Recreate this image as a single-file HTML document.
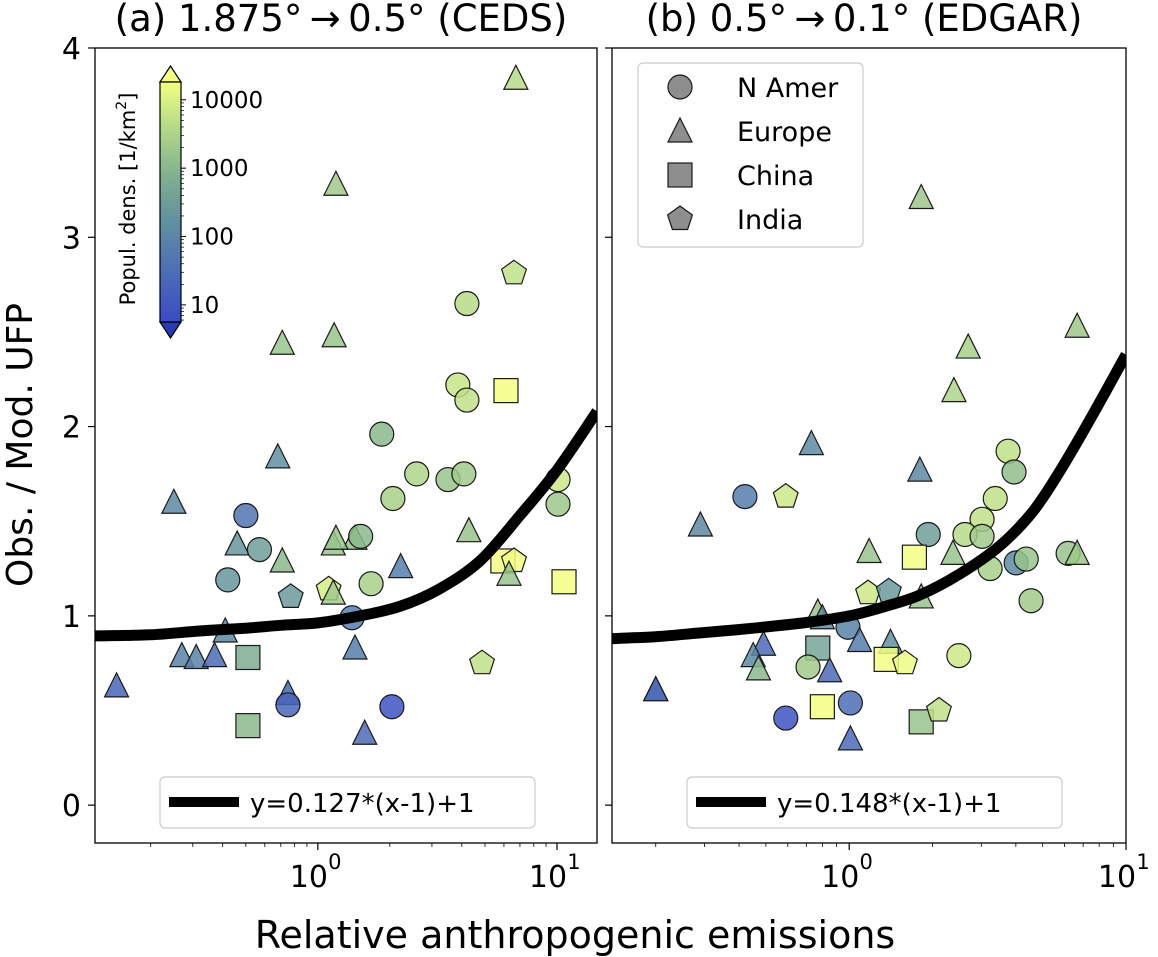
<!DOCTYPE html>
<html><head><meta charset="utf-8"><style>
html,body{margin:0;padding:0;background:#fff}
svg{display:block;font-family:"DejaVu Sans","Liberation Sans",sans-serif}
</style></head><body>
<svg id="chart" width="1158" height="957" viewBox="0 0 1158 957" xmlns="http://www.w3.org/2000/svg">
<defs>
<linearGradient id="cbgrad" x1="0" y1="1" x2="0" y2="0">
<stop offset="0" stop-color="#3a4bc6"/>
<stop offset="0.22" stop-color="#4f6fb4"/>
<stop offset="0.42" stop-color="#6190a0"/>
<stop offset="0.62" stop-color="#84b28e"/>
<stop offset="0.82" stop-color="#b6dc88"/>
<stop offset="1" stop-color="#f4ff84"/>
</linearGradient>
</defs>
<g id="root"></g>
</svg>
<script>
// ---------- data ----------
const countryNames = ["N Amer","Europe","China","India"];
// Panel (a)
const aX = [0.68,0.25,0.50,0.46,0.57,0.71,0.42,0.77,1.11,1.16,1.16,1.43,1.51,1.85,2.06,1.67,1.39,2.22,0.41,0.27,0.31,0.37,0.51,0.144,0.75,0.75,0.51,1.57,2.04,1.43,6.61,4.20,1.17,3.85,4.20,6.12,2.59,3.50,4.08,10.1,10.1,4.28,1.19,5.94,6.61,6.30,10.7,4.86,6.73,0.71,1.19];
const aY = [1.84,1.60,1.53,1.38,1.35,1.29,1.19,1.10,1.14,1.12,1.38,1.41,1.42,1.96,1.62,1.17,0.99,1.26,0.92,0.79,0.78,0.79,0.78,0.63,0.59,0.53,0.42,0.38,0.52,0.83,2.81,2.65,2.48,2.22,2.14,2.19,1.75,1.72,1.75,1.72,1.59,1.45,1.41,1.29,1.29,1.22,1.18,0.75,3.84,2.44,3.28];
const aShape = [1,1,0,1,0,1,0,3,3,1,1,1,0,0,0,0,0,1,1,1,1,1,2,1,1,0,2,1,0,1,3,0,1,0,0,2,0,0,0,0,0,1,1,2,3,1,2,3,1,1,1];
const aDens = [150,120,40,200,300,1000,200,250,8000,2000,1500,1500,1000,1000,2500,2500,60,60,100,80,80,25,600,20,20,20,1000,25,8,60,5000,4000,1500,6000,5000,20000,3000,1500,2000,7000,1800,1500,1500,20000,20000,1500,20000,5000,4000,1500,2000];
// Panel (b)
const bX = [0.20,0.29,0.42,0.59,0.73,1.80,1.93,1.72,1.18,2.37,3.75,3.94,3.37,3.02,2.62,3.02,3.23,4.01,4.36,6.18,6.66,4.54,1.17,1.39,1.82,0.77,0.80,0.99,0.49,0.45,0.47,0.77,1.09,1.41,1.36,1.59,0.71,0.85,2.49,0.20,0.59,0.80,1.01,1.01,1.82,2.11,1.82,2.39,2.69,6.66];
const bY = [0.61,1.48,1.63,1.63,1.91,1.77,1.43,1.31,1.34,1.33,1.87,1.76,1.62,1.51,1.43,1.42,1.25,1.28,1.30,1.33,1.33,1.08,1.12,1.13,1.10,1.02,0.99,0.94,0.85,0.79,0.72,0.83,0.87,0.86,0.77,0.75,0.73,0.71,0.79,0.61,0.46,0.52,0.54,0.35,0.44,0.50,3.21,2.19,2.42,2.53];
const bShape = [1,1,0,3,1,1,0,2,1,1,0,0,0,0,0,0,0,0,0,0,1,0,3,3,1,1,1,0,1,1,1,2,1,1,2,3,0,1,0,1,0,2,0,1,2,3,1,1,1,1];
const bDens = [25,120,60,7000,120,120,300,20000,1500,1500,5000,1200,5000,5000,4000,2000,2500,120,1500,1500,1800,2000,7000,250,1500,1500,120,80,25,120,1000,400,60,150,20000,15000,2000,25,7000,25,8,20000,30,25,1500,5000,1800,3000,2500,1800];
// Fit curves (sampled from figure)
const fitAx = [0.117,0.2,0.32,0.5,0.7,1,1.5,2.2,3.2,4.76,7,10,14.7];
const fitAy = [0.894,0.90,0.92,0.935,0.95,0.963,1.0,1.05,1.14,1.29,1.53,1.77,2.08];
const fitBx = [0.139,0.2,0.29,0.45,0.7,1,1.35,1.8,2.5,3.5,4.6,5.8,7.5,10];
const fitBy = [0.88,0.89,0.91,0.935,0.965,1.0,1.05,1.11,1.22,1.37,1.55,1.77,2.05,2.38];
const yTicks = [0,1,2,3,4];
const cbTicks = [10,100,1000,10000];
const fitLabels = ["y=0.127*(x-1)+1","y=0.148*(x-1)+1"];

// ---------- helpers ----------
const NS="http://www.w3.org/2000/svg";
const root=document.getElementById('root');
function mk(tag,attrs,parent){const e=document.createElementNS(NS,tag);for(const k in attrs)e.setAttribute(k,attrs[k]);(parent||root).appendChild(e);return e;}
const yTop=48, yBot=843, yMin=-0.2, yMax=4;
function yScale(v){return yBot-(v-yMin)/(yMax-yMin)*(yBot-yTop);}
const panels=[{x0:95,x1:597,lmin:Math.log10(0.117),lmax:Math.log10(14.7)},{x0:612,x1:1126,lmin:Math.log10(0.139),lmax:1}];
function xScale(p,v){const P=panels[p];return P.x0+(Math.log10(v)-P.lmin)/(P.lmax-P.lmin)*(P.x1-P.x0);}
const cbLo=0.75, cbHi=4.26, cbTopY=82, cbBotY=322;
const stops=[[0.75,[58,75,198]],[1.5,[79,111,180]],[2.2,[97,144,160]],[2.9,[132,178,142]],[3.6,[182,220,136]],[4.26,[244,255,132]]];
function color(d){let l=Math.log10(d);l=Math.max(cbLo,Math.min(cbHi,l));for(let i=0;i<stops.length-1;i++){const a=stops[i],b=stops[i+1];if(l<=b[0]){const t=(l-a[0])/(b[0]-a[0]);const c=a[1].map((v,j)=>Math.round(v+(b[1][j]-v)*t));return `rgb(${c[0]},${c[1]},${c[2]})`;}}return 'rgb(244,255,132)';}
function marker(g,shape,cx,cy,fill){
  const st={fill:fill,stroke:'#1a1a1a','stroke-width':1.2,'fill-opacity':0.85};
  let e;
  if(shape===0){e=mk('circle',Object.assign({cx:cx,cy:cy,r:12},st),g);}
  else if(shape===1){e=mk('polygon',Object.assign({points:`${cx},${cy-13} ${cx+12},${cy+11} ${cx-12},${cy+11}`},st),g);}
  else if(shape===2){e=mk('rect',Object.assign({x:cx-12,y:cy-12,width:24,height:24},st),g);}
  else{const pts=[];for(let k=0;k<5;k++){const a=-Math.PI/2+k*2*Math.PI/5;pts.push((cx+13*Math.cos(a)).toFixed(1)+','+(cy+13*Math.sin(a)).toFixed(1));}e=mk('polygon',Object.assign({points:pts.join(' ')},st),g);}
  return e;
}
function smoothPath(pts){
  let d='M'+pts[0][0].toFixed(1)+','+pts[0][1].toFixed(1);
  for(let i=0;i<pts.length-1;i++){
    const p0=pts[Math.max(0,i-1)],p1=pts[i],p2=pts[i+1],p3=pts[Math.min(pts.length-1,i+2)];
    const c1=[p1[0]+(p2[0]-p0[0])/6,p1[1]+(p2[1]-p0[1])/6];
    const c2=[p2[0]-(p3[0]-p1[0])/6,p2[1]-(p3[1]-p1[1])/6];
    d+=`C${c1[0].toFixed(1)},${c1[1].toFixed(1)} ${c2[0].toFixed(1)},${c2[1].toFixed(1)} ${p2[0].toFixed(1)},${p2[1].toFixed(1)}`;
  }
  return d;
}

const titles=["(a) 1.875°\u2009\u2192\u20090.5° (CEDS)","(b) 0.5°\u2009\u2192\u20090.1° (EDGAR)"];
const datasets=[[aX,aY,aShape,aDens,fitAx,fitAy],[bX,bY,bShape,bDens,fitBx,fitBy]];

for(let p=0;p<2;p++){
  const P=panels[p];
  const g=mk('g',{});
  
  
  const clipId='clip'+p;
  const cp=mk('clipPath',{id:clipId},g);mk('rect',{x:P.x0,y:yTop,width:P.x1-P.x0,height:yBot-yTop},cp);
  const t=mk('text',{x:(P.x0+P.x1)/2-5,y:31,'font-size':37,'text-anchor':'middle',fill:'#000'},g);t.textContent=titles[p];
  
  
  yTicks.forEach(v=>{const y=yScale(v);mk('line',{x1:P.x0-7,x2:P.x0,y1:y,y2:y,stroke:'#000','stroke-width':1.2},g);
    if(p===0){const tt=mk('text',{x:P.x0-14,y:y+11,'font-size':30,'text-anchor':'end'},g);tt.textContent=v;
      
      }});
  for(let dec=-1;dec<=1;dec++){for(let m=1;m<10;m++){const v=m*Math.pow(10,dec);const lv=Math.log10(v);if(lv<P.lmin-1e-9||lv>P.lmax+1e-9)continue;const x=xScale(p,v);
    mk('line',{x1:x,x2:x,y1:yBot,y2:yBot+(m===1?7:4),stroke:'#000','stroke-width':m===1?1.2:0.8},g);
    if(m===1&&dec>=0){const tt=mk('text',{x:x-9,y:yBot+44,'font-size':30,'text-anchor':'middle'},g);tt.textContent='10';
      
      
      const sup=mk('text',{x:x+17,y:yBot+26,'font-size':21,'text-anchor':'middle'},g);sup.textContent=String(dec);}}}
  const ds=datasets[p];
  const pg=mk('g',{'clip-path':`url(#${clipId})`},g);
  for(let i=0;i<ds[0].length;i++){const m=marker(pg,ds[2][i],xScale(p,ds[0][i]),yScale(ds[1][i]),color(ds[3][i]));
    
    }
  const pts=ds[4].map((v,i)=>[xScale(p,v),yScale(ds[5][i])]);
  const fc=mk('path',{d:smoothPath(pts),fill:'none',stroke:'#000','stroke-width':11,'clip-path':`url(#${clipId})`,'stroke-linejoin':'round'},g);
  
  
  mk('rect',{x:P.x0,y:yTop,width:P.x1-P.x0,height:yBot-yTop,fill:'none',stroke:'#000','stroke-width':1.3},g);
  const lx=p===0?160:687;
  const lg=mk('g',{},g);
  
  
  mk('rect',{x:lx,y:777,width:375,height:51,rx:5,fill:'#fff','fill-opacity':0.85,stroke:'#ccc','stroke-width':1.2},lg);
  mk('line',{x1:lx+9,x2:lx+79,y1:802,y2:802,stroke:'#000','stroke-width':10},lg);
  const lt=mk('text',{x:lx+90,y:812,'font-size':26},lg);lt.textContent=fitLabels[p];
}

{const lg=mk('g',{});
 
 
 mk('rect',{x:638,y:63,width:225,height:184,rx:5,fill:'#fff','fill-opacity':0.85,stroke:'#ccc','stroke-width':1.2},lg);
 const ys=[87,131,175,219];
 for(let i=0;i<4;i++){marker(lg,i,680,ys[i],'#7a7a7a');
   const t=mk('text',{x:737,y:ys[i]+10,'font-size':27},lg);t.textContent=countryNames[i];
   
   }}

{const cg=mk('g',{});
 
 
 const cx0=160,cx1=181;
 mk('polygon',{points:`${cx0},${cbTopY} ${(cx0+cx1)/2},66 ${cx1},${cbTopY}`,fill:'#f4ff84',stroke:'#000','stroke-width':1.2},cg);
 mk('polygon',{points:`${cx0},${cbBotY} ${(cx0+cx1)/2},338 ${cx1},${cbBotY}`,fill:'#2a3ab0',stroke:'#000','stroke-width':1.2},cg);
 mk('rect',{x:cx0,y:cbTopY,width:cx1-cx0,height:cbBotY-cbTopY,fill:'url(#cbgrad)',stroke:'#000','stroke-width':1.2},cg);
 function cbY(v){return cbBotY-(Math.log10(v)-cbLo)/(cbHi-cbLo)*(cbBotY-cbTopY);}
 cbTicks.forEach(v=>{const y=cbY(v);mk('line',{x1:cx1,x2:cx1+5,y1:y,y2:y,stroke:'#000','stroke-width':1},cg);
   const t=mk('text',{x:cx1+9,y:y+8,'font-size':23},cg);t.textContent=v;
   
   
   for(let m=2;m<10;m++){const vv=v*m;if(Math.log10(vv)<=cbHi){const yy=cbY(vv);mk('line',{x1:cx1,x2:cx1+3,y1:yy,y2:yy,stroke:'#000','stroke-width':0.7},cg);}}});
 [6,7,8,9].forEach(v=>{const yy=cbY(v);mk('line',{x1:cx1,x2:cx1+3,y1:yy,y2:yy,stroke:'#000','stroke-width':0.7},cg);});
 const lab=mk('text',{x:0,y:0,'font-size':21,'text-anchor':'middle',transform:'translate(135,199) rotate(-90)'},cg);
 lab.innerHTML='Popul. dens. [1/km<tspan dy="-9" font-size="14">2</tspan><tspan dy="9">]</tspan>';
}

{const xl=mk('text',{x:575,y:948,'font-size':38,'text-anchor':'middle'});xl.textContent='Relative anthropogenic emissions';
 
 
 const yl=mk('text',{x:0,y:0,'font-size':36,'text-anchor':'middle',transform:'translate(32,445) rotate(-90)'});yl.textContent='Obs. / Mod. UFP';
 
 }
</script>
</body></html>
